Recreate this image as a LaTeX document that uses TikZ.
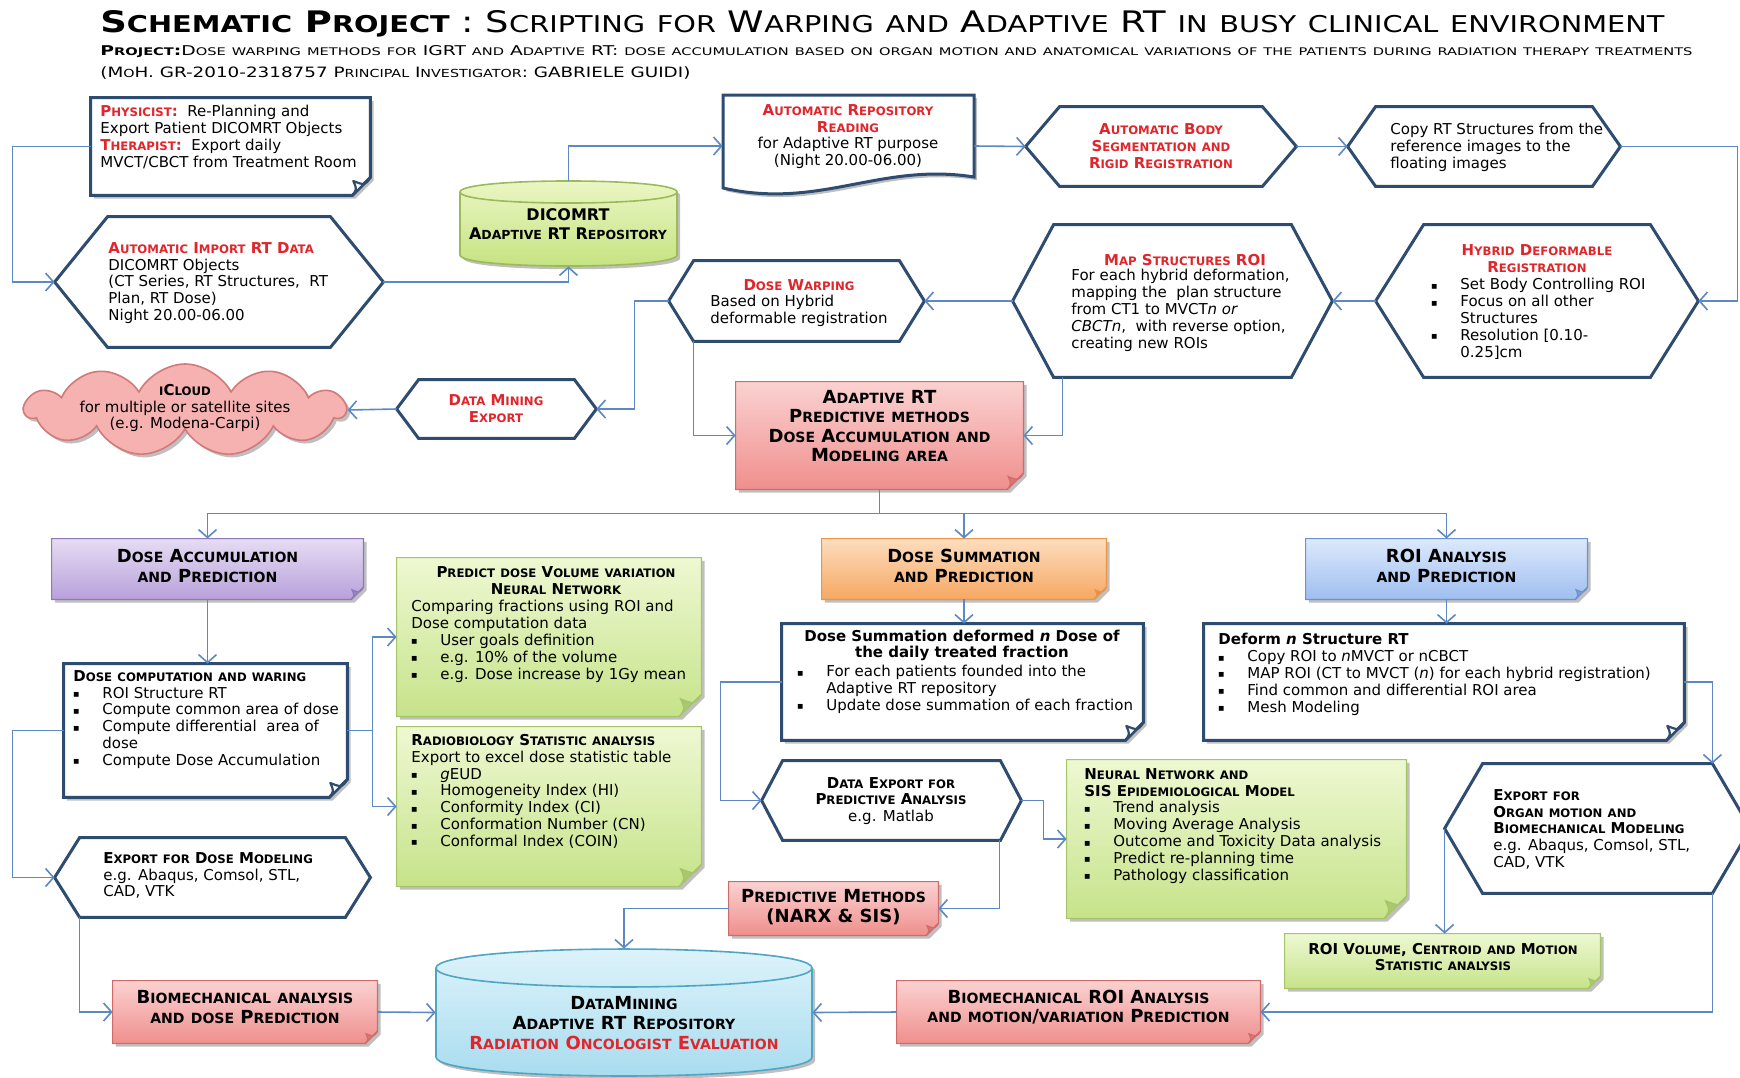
\documentclass[tikz,border=0pt]{standalone}
\usepackage{fontspec}
\setmainfont{DejaVu Sans}
\usepackage{graphicx}
\usetikzlibrary{arrows.meta,calc,fit,shapes.symbols,shadows}

% colours
\definecolor{hexcol}{HTML}{2E4C70}
\definecolor{conncol}{HTML}{5C88C4}
\definecolor{redtxt}{HTML}{E0262B}
\definecolor{greentop}{HTML}{EEF8D2}
\definecolor{greenbot}{HTML}{C6E38A}
\definecolor{greenbd}{HTML}{A6C56A}
\definecolor{greenfd}{HTML}{A9C86E}
\definecolor{redtop}{HTML}{FAD2D1}
\definecolor{redbot}{HTML}{EF8F8D}
\definecolor{redbd}{HTML}{D06B69}
\definecolor{redfd}{HTML}{D97674}
\definecolor{purtop}{HTML}{E6DCF3}
\definecolor{purbot}{HTML}{B8A1DA}
\definecolor{purbd}{HTML}{8E78B8}
\definecolor{purfd}{HTML}{9B84C6}
\definecolor{orgtop}{HTML}{FDDDBF}
\definecolor{orgbot}{HTML}{F6A862}
\definecolor{orgbd}{HTML}{E8964A}
\definecolor{orgfd}{HTML}{E0914C}
\definecolor{blutop}{HTML}{DDE9FB}
\definecolor{blubot}{HTML}{9EBEF0}
\definecolor{blubd}{HTML}{6D93CF}
\definecolor{blufd}{HTML}{7C9FD8}
\definecolor{cyltop}{HTML}{ECF7C8}
\definecolor{cylbot}{HTML}{C4E27E}
\definecolor{cylbd}{HTML}{9CBB58}
\definecolor{dmtop}{HTML}{E0F4FB}
\definecolor{dmbot}{HTML}{A6DBEF}
\definecolor{dmbd}{HTML}{4FA6C3}
\definecolor{cloudfill}{HTML}{F6B1B1}
\definecolor{cloudbd}{HTML}{D27A7A}

% fonts
\newcommand\bodyfont{\fontsize{7.5}{8.4}\selectfont}
\newcommand\hdfont{\fontsize{9}{9.8}\selectfont\bfseries}
\makeatletter
\newcommand\scsz{\fontsize{\fpeval{0.78*\f@size}}{\f@baselineskip}\selectfont}
\makeatother

% small capitals built from scaled upper-case letters
\ExplSyntaxOn
\NewDocumentCommand \fsc { m }
  {
    \str_map_inline:nn {#1}
      {
        \str_if_eq:nnTF {##1} {~}
          { \c_space_tl }
          {
            \int_compare:nTF { 97 <= `##1 <= 122 }
              { { \scsz \char_generate:nn { `##1 - 32 } { 12 } } }
              { ##1 }
          }
      }
  }
\ExplSyntaxOff

\newcommand\rh[1]{{\color{redtxt}\bfseries\fsc{#1}}}
\newcommand\bul{\makebox[14.5pt][l]{\raisebox{0.18ex}{\scalebox{0.42}{■}}}}
\newcommand\ind{\hspace*{14.5pt}}

\tikzset{
  conn/.style={draw=conncol, line width=0.8pt, -{Straight Barb[length=4pt,width=9pt,line width=0.8pt]}},
  line/.style={draw=conncol, line width=0.8pt},
  hexline/.style={draw=hexcol, line width=1.5pt, fill=white, line join=miter},
  txt/.style={inner sep=0pt, align=left, font=\bodyfont, text=black},
  shad/.style={drop shadow={shadow xshift=1.6pt, shadow yshift=-1.6pt, opacity=0.25, fill=black}},
  whitenote/.style={draw=hexcol, line width=1.5pt, fill=white, shad},
  whitefold/.style={draw=hexcol, line width=1.1pt, fill=white, line join=round},
  greennote/.style={draw=greenbd, line width=0.6pt, top color=greentop, bottom color=greenbot, shad},
  greenfold/.style={draw=greenbd, line width=0.6pt, fill=greenfd},
  rednote/.style={draw=redbd, line width=0.6pt, top color=redtop, bottom color=redbot, shad},
  redfold/.style={draw=redbd, line width=0.6pt, fill=redfd},
  purnote/.style={draw=purbd, line width=0.6pt, top color=purtop, bottom color=purbot, shad},
  purfold/.style={draw=purbd, line width=0.6pt, fill=purfd},
  orgnote/.style={draw=orgbd, line width=0.6pt, top color=orgtop, bottom color=orgbot, shad},
  orgfold/.style={draw=orgbd, line width=0.6pt, fill=orgfd},
  blunote/.style={draw=blubd, line width=0.6pt, top color=blutop, bottom color=blubot, shad},
  blufold/.style={draw=blubd, line width=0.6pt, fill=blufd},
}

% hexagon: name, x1, y1, x2, y2, inset
\newcommand\hexbox[6]{%
  \node[fit={(#2,#3) (#4,#5)}, inner sep=0pt] (#1) {};
  \path[hexline] (#1.west) -- ($(#1.north west)+(#6,0)$) -- ($(#1.north east)+(-#6,0)$)
    -- (#1.east) -- ($(#1.south east)+(-#6,0)$) -- ($(#1.south west)+(#6,0)$) -- cycle;
}
% note with folded corner: name, x1, y1, x2, y2, body style, fold style, fold size
\newcommand\notebox[8]{%
  \node[fit={(#2,#3) (#4,#5)}, inner sep=0pt] (#1) {};
  \path[#6] (#1.north west) -- (#1.north east) -- ($(#1.south east)+(0,-#8)$)
    -- ($(#1.south east)+(-#8,0)$) -- (#1.south west) -- cycle;
  \path[#7] ($(#1.south east)+(0,-#8)$)
    .. controls ($(#1.south east)+(-0.3*#8,-0.55*#8)$) .. ($(#1.south east)+(-0.95*#8,-0.8*#8)$)
    .. controls ($(#1.south east)+(-0.75*#8,-0.35*#8)$) .. ($(#1.south east)+(-#8,0)$) -- cycle;
}

\begin{document}
\begin{tikzpicture}[x=0.5pt, y=-0.5pt]
\useasboundingbox (0,0) rectangle (1740,1077);
\fill[white] (0,0) rectangle (1740,1077);

% ---------- heading ----------
\node[anchor=west, inner sep=0pt] (title) at (100,24)
  {\resizebox{782pt}{11pt}{\bfseries\fsc{Schematic Project}\mdseries\fsc{ : Scripting for Warping and Adaptive RT in busy clinical environment}}};
\node[anchor=west, inner sep=0pt] (sub1) at (100,52)
  {\resizebox{796pt}{5pt}{\bfseries\fsc{Project:}\mdseries\fsc{Dose warping methods for IGRT and Adaptive RT: dose accumulation based on organ motion and anatomical variations of the patients during radiation therapy treatments}}};
\node[anchor=west, inner sep=0pt] (sub2) at (100,73)
  {\resizebox{295pt}{5.4pt}{\fsc{(MoH. GR-2010-2318757 Principal Investigator: GABRIELE GUIDI)}}};

% ---------- upper band ----------
\notebox{phys}{91}{98}{370}{195}{whitenote}{whitefold}{18}
\node[txt, anchor=north west] (phys-t) at (100,105)
  {\rh{Physicist:} \ Re-Planning and\\Export Patient DICOMRT Objects\\\rh{Therapist:} \ Export daily\\MVCT/CBCT from Treatment Room};

\hexbox{import}{55}{217}{383}{347}{53}
\node[txt, anchor=north west] (import-t) at (108,242)
  {\rh{Automatic Import RT Data}\\DICOMRT Objects\\(CT Series, RT Structures, \ RT\\Plan, RT Dose)\\Night 20.00-06.00};

% DICOMRT repository cylinder
\node[fit={(460,181) (677,266)}, inner sep=0pt] (dicom) {};
\path[draw=cylbd, line width=0.8pt, top color=cyltop, bottom color=cylbot, shad]
  (460,192) -- (460,255) .. controls (460,269.7) and (677,269.7) .. (677,255)
  -- (677,192) .. controls (677,177.3) and (460,177.3) .. (460,192) -- cycle;
\draw[cylbd, line width=0.8pt] (460,192) .. controls (460,206.7) and (677,206.7) .. (677,192);
\node[txt, align=center, font=\fontsize{8}{9.2}\selectfont\bfseries] (dicom-t) at (568,224)
  {DICOMRT\\\fsc{Adaptive RT Repository}};

% repository reading document
\node[fit={(723,97) (974,195)}, inner sep=0pt] (reading) {};
\path[draw=hexcol, line width=1.5pt, fill=white, shad]
  (723,95) -- (974,95) -- (974,177) .. controls (880,162) and (820,210) .. (723,188) -- cycle;
\node[txt, align=center, anchor=north] (reading-t) at (848,104)
  {\rh{Automatic Repository}\\\rh{Reading}\\for Adaptive RT purpose\\(Night 20.00-06.00)};

\hexbox{body}{1026}{107}{1296}{186}{34}
\node[txt, align=center] (body-t) at (1161,146)
  {\rh{Automatic Body}\\\rh{Segmentation and}\\\rh{Rigid Registration}};

\hexbox{copy}{1348}{107}{1620}{186}{28}
\node[txt, anchor=north west] (copy-t) at (1390,123)
  {Copy RT Structures from the\\reference images to the\\floating images};

\hexbox{hybrid}{1376}{225}{1698}{377}{48}
\node[txt, align=center] (hybrid-h) at (1537,259)
  {\rh{Hybrid Deformable}\\\rh{Registration}};
\node[txt, anchor=north west] (hybrid-t) at (1431,278)
  {\bul Set Body Controlling ROI\\\bul Focus on all other\\\ind Structures\\\bul Resolution [0.10-\\\ind 0.25]cm};

\hexbox{map}{1013}{225}{1332}{377}{41}
\node[txt] (map-h) at (1185,260) {\rh{Map Structures ROI}};
\node[txt, anchor=north west] (map-t) at (1071,269)
  {For each hybrid deformation,\\mapping the \ plan structure\\from CT1 to MVCT\emph{n or}\\\emph{CBCTn}, \ with reverse option,\\creating new ROIs};

\hexbox{warp}{669}{261}{924}{341}{25}
\node[txt] (warp-h) at (799,285) {\rh{Dose Warping}};
\node[txt, anchor=north west] (warp-t) at (710,295) {Based on Hybrid\\deformable registration};

\notebox{adaptive}{736}{382}{1023}{489}{rednote}{redfold}{16}
\node[txt, align=center, font=\hdfont] (adaptive-t) at (879.5,426)
  {\fsc{Adaptive RT}\\\fsc{Predictive methods}\\\fsc{Dose Accumulation and}\\\fsc{Modeling area}};

\hexbox{dme}{397}{380}{596}{438}{22}
\node[txt, align=center] (dme-t) at (496,409) {\rh{Data Mining}\\\rh{Export}};

\node[cloud, cloud puffs=11, cloud puff arc=125, aspect=2.7, draw=cloudbd, line width=0.8pt,
      fill=cloudfill, shad, inner sep=0pt, minimum width=160pt, minimum height=46pt] (icloud) at (185,410) {};
\node[txt, align=center] (icloud-t) at (185,408)
  {{\bfseries\fsc{iCloud}}\\for multiple or satellite sites\\(e.g. Modena-Carpi)};

% ---------- middle band ----------
\notebox{dap}{52}{539}{363}{599}{purnote}{purfold}{12}
\node[txt, align=center, font=\hdfont] (dap-t) at (207.5,566) {\fsc{Dose Accumulation}\\\fsc{and Prediction}};
\notebox{dsp}{822}{539}{1106}{599}{orgnote}{orgfold}{12}
\node[txt, align=center, font=\hdfont] (dsp-t) at (964,566) {\fsc{Dose Summation}\\\fsc{and Prediction}};
\notebox{roip}{1306}{539}{1587}{599}{blunote}{blufold}{12}
\node[txt, align=center, font=\hdfont] (roip-t) at (1446.5,566) {\fsc{ROI Analysis}\\\fsc{and Prediction}};

\notebox{dcw}{64}{664}{347}{797}{whitenote}{whitefold}{18}
\node[txt, anchor=north west] (dcw-t) at (73,670)
  {{\bfseries\fsc{Dose computation and waring}}\\\bul ROI Structure RT\\\bul Compute common area of dose\\\bul Compute differential \ area of\\\ind dose\\\bul Compute Dose Accumulation};

\notebox{pdv}{397}{558}{701}{716}{greennote}{greenfold}{22}
\node[txt, align=center, font=\bodyfont\bfseries] (pdv-h) at (556,581)
  {\fsc{Predict dose Volume variation}\\\fsc{Neural Network}};
\node[txt, anchor=north west] (pdv-t) at (411,600)
  {Comparing fractions using ROI and\\Dose computation data\\\bul User goals definition\\\bul e.g. 10\% of the volume\\\bul e.g. Dose increase by 1Gy mean};

\notebox{rad}{397}{727}{701}{886}{greennote}{greenfold}{22}
\node[txt, anchor=north west] (rad-t) at (411,734)
  {{\bfseries\fsc{Radiobiology Statistic analysis}}\\Export to excel dose statistic table\\\bul \emph{g}EUD\\\bul Homogeneity Index (HI)\\\bul Conformity Index (CI)\\\bul Conformation Number (CN)\\\bul Conformal Index (COIN)};

\notebox{dsd}{782}{624}{1143}{740}{whitenote}{whitefold}{18}
\node[txt, align=center, font=\bodyfont\bfseries] (dsd-h) at (962,645.5)
  {Dose Summation deformed \emph{n} Dose of\\the daily treated fraction};
\node[txt, anchor=north west] (dsd-t) at (797,665)
  {\bul For each patients founded into the\\\ind Adaptive RT repository\\\bul Update dose summation of each fraction};

\notebox{dnd}{1204}{624}{1684}{740}{whitenote}{whitefold}{18}
\node[txt, anchor=north west] (dnd-t) at (1218,633)
  {{\bfseries Deform \emph{n} Structure RT}\\\bul Copy ROI to \emph{n}MVCT or nCBCT\\\bul MAP ROI (CT to MVCT (\emph{n}) for each hybrid registration)\\\bul Find common and differential ROI area\\\bul Mesh Modeling};

% ---------- lower band ----------
\hexbox{edm}{55}{838}{370}{917}{25}
\node[txt, anchor=north west] (edm-t) at (103,852)
  {{\bfseries\fsc{Export for Dose Modeling}}\\e.g. Abaqus, Comsol, STL,\\CAD, VTK};

\notebox{bio}{113}{981}{377}{1043}{rednote}{redfold}{12}
\node[txt, align=center, font=\hdfont] (bio-t) at (245,1007)
  {\fsc{Biomechanical analysis}\\\fsc{and dose Prediction}};

% data mining repository cylinder
\node[fit={(436,949) (812,1076)}, inner sep=0pt] (dmc) {};
\path[draw=dmbd, line width=0.8pt, top color=dmtop, bottom color=dmbot, shad]
  (436,968) -- (436,1057) .. controls (436,1082.3) and (812,1082.3) .. (812,1057)
  -- (812,968) .. controls (812,942.7) and (436,942.7) .. (436,968) -- cycle;
\draw[dmbd, line width=0.8pt] (436,968) .. controls (436,993.3) and (812,993.3) .. (812,968);
\node[txt, align=center, font=\hdfont] (dmc-t) at (624,1023)
  {\fsc{DataMining}\\\fsc{Adaptive RT Repository}\\{\color{redtxt}\fsc{Radiation Oncologist Evaluation}}};

\notebox{pm}{729}{882}{938}{935}{rednote}{redfold}{12}
\node[txt, align=center, font=\hdfont] (pm-t) at (833.5,907)
  {\fsc{Predictive Methods}\\(NARX \& SIS)};

\hexbox{dep}{762}{761}{1021}{840}{21}
\node[txt, align=center] (dep-t) at (891,801)
  {{\bfseries\fsc{Data Export for}}\\{\bfseries\fsc{Predictive Analysis}}\\e.g. Matlab};

\notebox{nn}{1067}{760}{1406}{918}{greennote}{greenfold}{22}
\node[txt, anchor=north west] (nn-t) at (1084,768)
  {{\bfseries\fsc{Neural Network and}}\\{\bfseries\fsc{SIS Epidemiological Model}}\\\bul Trend analysis\\\bul Moving Average Analysis\\\bul Outcome and Toxicity Data analysis\\\bul Predict re-planning time\\\bul Pathology classification};

\hexbox{organ}{1445}{764}{1750}{893}{38}
\node[txt, anchor=north west] (organ-t) at (1493,789)
  {{\bfseries\fsc{Export for}}\\{\bfseries\fsc{Organ motion and}}\\{\bfseries\fsc{Biomechanical Modeling}}\\e.g. Abaqus, Comsol, STL,\\CAD, VTK};

\notebox{rvol}{1285}{934}{1600}{988}{greennote}{greenfold}{12}
\node[txt, align=center, font=\bodyfont\bfseries] (rvol-t) at (1443,957)
  {\fsc{ROI Volume, Centroid and Motion}\\\fsc{Statistic analysis}};

\notebox{bror}{897}{981}{1260}{1043}{rednote}{redfold}{12}
\node[txt, align=center, font=\hdfont] (bror-t) at (1078.5,1007)
  {\fsc{Biomechanical ROI Analysis}\\\fsc{and motion/variation Prediction}};

% ---------- connectors ----------
\draw[conn] (phys.west) -- ++(-78,0) |- (import.west);
\draw[conn] (import.east) -| (dicom.south);
\draw[conn] (dicom.north) |- (reading.west);
\draw[conn] (reading.east) -- (body.west);
\draw[conn] (body.east) -- (copy.west);
\draw[conn] (copy.east) -- ++(117,0) |- (hybrid.east);
\draw[conn] (hybrid.west) -- (map.east);
\draw[conn] (map.west) -- (warp.east);
\draw[conn] (warp.west) -- ++(-34,0) |- (dme.east);
\draw[conn] (dme.west) -- (icloud.east);
\draw[conn] ($(warp.south west)+(25,0)$) |- (adaptive.west);
\draw[conn] ($(map.south west)+(50,0)$) |- (adaptive.east);
\coordinate (branch) at ($(adaptive.south)+(0,24)$);
\draw[line] (adaptive.south) -- (branch);
\draw[conn] (branch) -| (dap.north);
\draw[conn] (branch) -| (dsp.north);
\draw[conn] (branch) -| (roip.north);
\draw[conn] (dap.south) -- (dap.south |- dcw.north);
\draw[conn] (dcw.east) -- ++(25,0) |- (pdv.west);
\draw[conn] (dcw.east) -- ++(25,0) |- (rad.west);
\draw[conn] (dcw.west) -- ++(-51,0) |- (edm.west);
\draw[conn] ($(edm.south west)+(25,0)$) |- (bio.west);
\draw[conn] (bio.east) -- (dmc.west);
\draw[conn] (dsp.south) -- (dsp.south |- dsd.north);
\draw[conn] (roip.south) -- (roip.south |- dnd.north);
\draw[conn] (dsd.west) -- ++(-61,0) |- (dep.west);
\draw[conn] (dep.east) -- ++(22,0) |- (nn.west);
\draw[conn] ($(dep.south east)+(-22,0)$) |- (pm.east);
\draw[conn] (pm.west) -| (dmc.north);
\draw[conn] (dnd.east) -| ($(organ.north east)+(-38,0)$);
\draw[conn] (organ.west) -- (organ.west |- rvol.north);
\draw[conn] ($(organ.south east)+(-38,0)$) |- (bror.east);
\draw[conn] (bror.west) -- (dmc.east);
\end{tikzpicture}
\end{document}
